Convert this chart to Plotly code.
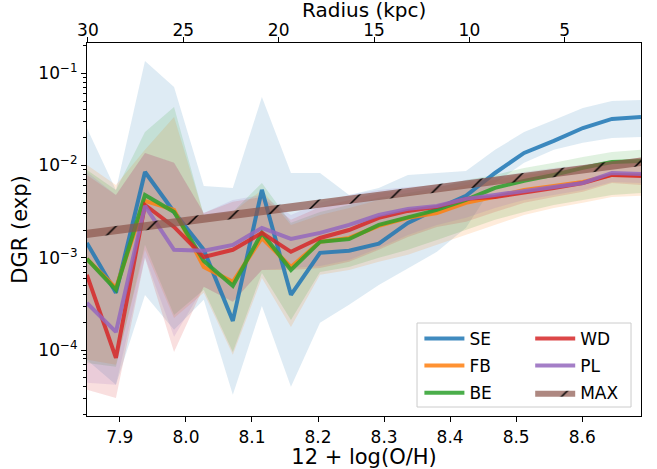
import plotly.graph_objects as go

# 12 + log(O/H) bins
OH = [7.850, 7.894, 7.938, 7.982, 8.027, 8.071, 8.115, 8.159, 8.203, 8.247,
      8.292, 8.336, 8.380, 8.424, 8.468, 8.512, 8.557, 8.601, 8.645, 8.689]

SE = [1.45e-3, 4.17e-4, 8.5e-3, 3.14e-3, 1.22e-3, 2.07e-4, 5.45e-3, 3.97e-4, 1.13e-3, 1.19e-3,
      1.42e-3, 2.39e-3, 3.39e-3, 4.69e-3, 8.3e-3, 1.37e-2, 1.85e-2, 2.55e-2, 3.2e-2, 3.36e-2]
SE_hi = [2.55e-2, 5.44e-3, 0.136, 7.11e-2, 6.01e-3, 5.72e-3, 5.53e-2, 8.32e-3, 8.32e-3, 4.80e-3,
         5.72e-3, 7.91e-3, 8.32e-3, 8.73e-3, 1.48e-2, 2.31e-2, 3.12e-2, 4.21e-2, 5.01e-2, 5.14e-2]
SE_lo = [7.83e-5, 4.20e-5, 3.96e-4, 1.66e-4, 3.50e-4, 3.27e-5, 3.01e-4, 3.99e-5, 1.97e-4, 3.09e-4,
         5.08e-4, 7.76e-4, 1.16e-3, 2.11e-3, 6.47e-3, 1.07e-2, 1.48e-2, 1.76e-2, 1.99e-2, 2.04e-2]

FB = [9.73e-4, 4.72e-4, 4.13e-3, 3.30e-3, 7.96e-4, 5.48e-4, 1.64e-3, 7.96e-4, 1.49e-3, 1.64e-3,
      2.22e-3, 2.71e-3, 3.06e-3, 3.94e-3, 4.57e-3, 5.44e-3, 6.01e-3, 6.64e-3, 7.91e-3, 7.91e-3]
FB_hi = [1.015e-2, 6.16e-3, 1.48e-2, 3.36e-2, 2.91e-3, 3.14e-3, 5.44e-3, 2.27e-3, 2.91e-3, 3.47e-3,
         4.24e-3, 4.80e-3, 5.18e-3, 6.16e-3, 6.98e-3, 7.91e-3, 8.53e-3, 9.42e-3, 1.09e-2, 1.09e-2]
FB_lo = [7.83e-5, 6.92e-5, 1.22e-3, 2.23e-4, 4.17e-4, 8.87e-5, 6.05e-4, 1.78e-4, 6.53e-4, 7.39e-4,
         9.04e-4, 1.08e-3, 1.38e-3, 1.77e-3, 2.27e-3, 2.91e-3, 3.47e-3, 3.94e-3, 4.57e-3, 4.69e-3]

BE = [9.73e-4, 4.49e-4, 4.80e-3, 3.14e-3, 9.25e-4, 4.97e-4, 1.86e-3, 7.39e-4, 1.49e-3, 1.60e-3,
      2.27e-3, 2.77e-3, 3.30e-3, 4.24e-3, 5.72e-3, 6.81e-3, 7.91e-3, 9.42e-3, 1.09e-2, 1.12e-2]
BE_hi = [8.96e-3, 5.44e-3, 2.31e-2, 4.31e-2, 2.91e-3, 3.14e-3, 6.47e-3, 2.39e-3, 3.14e-3, 3.74e-3,
         4.46e-3, 5.05e-3, 5.72e-3, 6.98e-3, 7.91e-3, 9.42e-3, 1.07e-2, 1.24e-2, 1.40e-2, 1.48e-2]
BE_lo = [7.26e-5, 6.58e-5, 1.38e-3, 2.40e-4, 4.49e-4, 9.55e-5, 6.86e-4, 2.12e-4, 7.03e-4, 7.96e-4,
         9.98e-4, 1.22e-3, 1.56e-3, 2.00e-3, 2.58e-3, 3.14e-3, 3.74e-3, 4.24e-3, 4.80e-3, 5.05e-3]

WD = [6.53e-4, 8.24e-5, 3.74e-3, 2.16e-3, 1.02e-3, 1.22e-3, 1.86e-3, 1.16e-3, 1.64e-3, 2.00e-3,
      2.71e-3, 3.22e-3, 3.56e-3, 4.35e-3, 4.57e-3, 5.05e-3, 5.72e-3, 6.47e-3, 7.91e-3, 7.71e-3]
WD_hi = [7.91e-3, 4.80e-3, 1.37e-2, 1.07e-2, 3.06e-3, 4.04e-3, 4.57e-3, 2.58e-3, 3.56e-3, 4.24e-3,
         5.05e-3, 5.44e-3, 5.86e-3, 6.64e-3, 7.34e-3, 8.11e-3, 8.96e-3, 9.90e-3, 1.15e-2, 1.12e-2]
WD_lo = [3.71e-5, 3.03e-5, 9.98e-4, 9.55e-5, 4.84e-4, 3.33e-4, 7.39e-4, 7.39e-4, 7.76e-4, 9.04e-4,
         1.22e-3, 1.68e-3, 2.16e-3, 2.45e-3, 3.14e-3, 3.94e-3, 4.57e-3, 5.18e-3, 6.47e-3, 6.16e-3]

PL = [3.24e-4, 1.57e-4, 3.65e-3, 1.22e-3, 1.19e-3, 1.38e-3, 2.11e-3, 1.60e-3, 1.86e-3, 2.27e-3,
      2.91e-3, 3.39e-3, 3.65e-3, 4.35e-3, 4.80e-3, 5.31e-3, 5.86e-3, 6.47e-3, 8.32e-3, 8.11e-3]
PL_hi = [8.53e-3, 4.80e-3, 1.37e-2, 1.07e-2, 3.06e-3, 4.24e-3, 4.80e-3, 2.91e-3, 3.94e-3, 4.80e-3,
         5.44e-3, 5.86e-3, 6.16e-3, 6.98e-3, 7.52e-3, 8.53e-3, 9.42e-3, 1.015e-2, 1.15e-2, 1.12e-2]
PL_lo = [4.42e-5, 4.20e-5, 1.02e-3, 1.39e-4, 4.84e-4, 3.33e-4, 7.39e-4, 7.76e-4, 8.17e-4, 9.48e-4,
         1.28e-3, 1.77e-3, 2.27e-3, 2.71e-3, 3.47e-3, 4.24e-3, 4.80e-3, 5.44e-3, 6.64e-3, 6.47e-3]

MAX_lo = [1.64e-3, 1.80e-3, 1.98e-3, 2.18e-3, 2.39e-3, 2.63e-3, 2.89e-3, 3.18e-3, 3.49e-3, 3.84e-3,
          4.23e-3, 4.65e-3, 5.11e-3, 5.61e-3, 6.17e-3, 6.78e-3, 7.45e-3, 8.20e-3, 9.02e-3, 9.91e-3]
MAX_hi = [2.01e-3, 2.21e-3, 2.43e-3, 2.68e-3, 2.94e-3, 3.24e-3, 3.56e-3, 3.91e-3, 4.30e-3, 4.72e-3,
          5.20e-3, 5.71e-3, 6.28e-3, 6.90e-3, 7.59e-3, 8.34e-3, 9.16e-3, 1.01e-2, 1.11e-2, 1.22e-2]

X_TICKS = [7.9, 8.0, 8.1, 8.2, 8.3, 8.4, 8.5, 8.6]
Y_TICKS = [1e-4, 1e-3, 1e-2, 1e-1]
Y_TICK_TEXT = ["10<sup>\u22124</sup>", "10<sup>\u22123</sup>", "10<sup>\u22122</sup>", "10<sup>\u22121</sup>"]
RADIUS_TICKS = [30, 25, 20, 15, 10, 5]
OH_AT_R0 = 8.718      # metallicity at the centre
OH_GRADIENT = 0.02888  # dex per kpc

COLORS = {"SE": (31, 119, 180), "FB": (255, 127, 14), "BE": (44, 160, 44),
          "WD": (214, 39, 40), "PL": (148, 103, 189)}
SERIES = [("SE", SE, SE_lo, SE_hi, "legend"), ("FB", FB, FB_lo, FB_hi, "legend"),
          ("BE", BE, BE_lo, BE_hi, "legend"), ("WD", WD, WD_lo, WD_hi, "legend2"),
          ("PL", PL, PL_lo, PL_hi, "legend2")]

FONT = "DejaVu Sans"
fig = go.Figure()

def rgba(c, a):
    return "rgba(%d,%d,%d,%.3f)" % (c[0], c[1], c[2], a)

# uncertainty bands first
for name, mid, lo, hi, leg in SERIES:
    c = COLORS[name]
    fig.add_trace(go.Scatter(x=OH, y=lo, mode="lines", line=dict(width=0, color=rgba(c, 0)),
                             showlegend=False, hoverinfo="skip"))
    fig.add_trace(go.Scatter(x=OH, y=hi, mode="lines", line=dict(width=0, color=rgba(c, 0)),
                             fill="tonexty", fillcolor=rgba(c, 0.15),
                             showlegend=False, hoverinfo="skip"))

# lines on top
for name, mid, lo, hi, leg in SERIES:
    c = COLORS[name]
    fig.add_trace(go.Scatter(x=OH, y=mid, mode="lines", name=name, legend=leg, legendgroup=name,
                             line=dict(width=4, color=rgba(c, 0.85))))

brown = (140, 86, 75)
fig.add_trace(go.Scatter(x=OH, y=MAX_lo, mode="lines", line=dict(width=0, color=rgba(brown, 0)),
                         showlegend=False, hoverinfo="skip"))
fig.add_trace(go.Scatter(x=OH, y=MAX_hi, mode="lines", name="MAX", legend="legend2", legendgroup="MAX",
                         line=dict(width=0, color=rgba(brown, 0)),
                         fill="tonexty", fillcolor=rgba(brown, 0.7),
                         fillpattern=dict(shape="/", fgcolor="black", bgcolor=rgba(brown, 0.7),
                                          size=25, solidity=0.06, fgopacity=1)))

# invisible trace to carry the top axis
fig.add_trace(go.Scatter(x=[OH[0], OH[-1]], y=[MAX_lo[0], MAX_lo[-1]], xaxis="x2", mode="lines",
                         line=dict(width=0), showlegend=False, hoverinfo="skip", opacity=0))

top_vals = [OH_AT_R0 - OH_GRADIENT * r for r in RADIUS_TICKS]

minor_vals = []
for e in range(-5, 0):
    for m in range(2, 10):
        minor_vals.append(m * 10.0 ** e)

axis_common = dict(showline=True, linecolor="black", linewidth=1.2, ticks="outside",
                   ticklen=5, tickwidth=1, tickcolor="black", showgrid=False, zeroline=False,
                   automargin=False,
                   tickfont=dict(family=FONT, size=17, color="black"))

TITLE_SIZE = 21
LEG_FONT = dict(family=FONT, size=17)

fig.update_layout(
    width=657, height=469,
    margin=dict(l=87, r=16, t=43, b=53),
    paper_bgcolor="white", plot_bgcolor="white",
    font=dict(family=FONT, color="black"),
    xaxis=dict(range=[7.8502, 8.689], tickvals=X_TICKS, ticktext=["%.1f" % v for v in X_TICKS],
               title=dict(text="12 + log(O/H)", font=dict(family=FONT, size=TITLE_SIZE), standoff=2),
               **axis_common),
    xaxis2=dict(range=[7.8502, 8.689], overlaying="x", side="top", anchor="y",
                tickvals=top_vals, ticktext=[str(r) for r in RADIUS_TICKS],
                ticklabelstandoff=-6,
                **axis_common),
    yaxis=dict(type="log", range=[-4.715, -0.672], tickvals=Y_TICKS, ticktext=Y_TICK_TEXT,
               mirror=True,
               minor=dict(tickvals=minor_vals, ticks="outside", ticklen=3, tickwidth=0.8,
                          tickcolor="black", showgrid=False),
               title=dict(text="DGR (exp)", font=dict(family=FONT, size=TITLE_SIZE), standoff=4),
               **axis_common),
    legend=dict(x=0.60, y=0.255, xanchor="left", yanchor="top", bgcolor="rgba(0,0,0,0)",
                borderwidth=0, font=LEG_FONT, tracegroupgap=2,
                traceorder="grouped", itemwidth=40),
    legend2=dict(x=0.80, y=0.255, xanchor="left", yanchor="top", bgcolor="rgba(0,0,0,0)",
                 borderwidth=0, font=LEG_FONT, tracegroupgap=2,
                 traceorder="grouped", itemwidth=40),
    shapes=[dict(type="rect", xref="paper", yref="paper", x0=0.5957, x1=0.982, y0=0.0241, y1=0.2493,
                 line=dict(color="#cccccc", width=1), fillcolor="rgba(255,255,255,0.8)",
                 layer="above")],
    annotations=[dict(text="Radius (kpc)", xref="paper", yref="paper", x=0.5, y=(416 - 10) / 373,
                      xanchor="center", yanchor="middle", showarrow=False,
                      font=dict(family=FONT, size=20, color="black"))],
)

fig.write_html("out.html")
